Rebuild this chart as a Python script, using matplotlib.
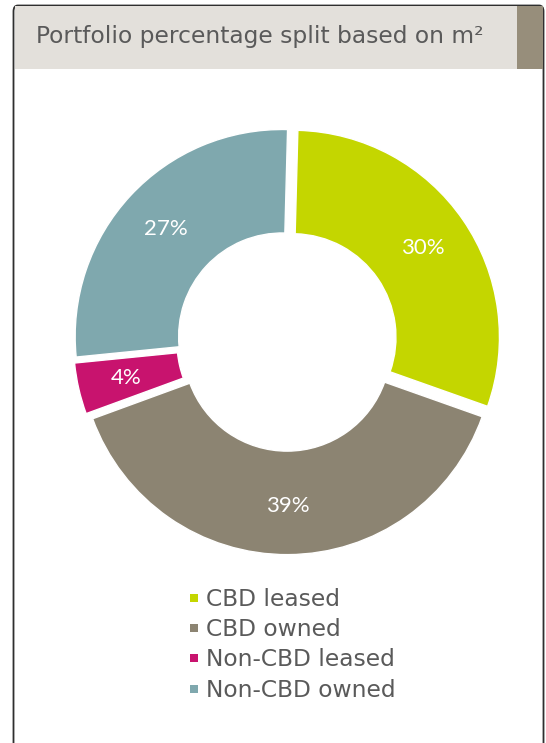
import matplotlib
matplotlib.use("Agg")
import matplotlib.pyplot as plt
from matplotlib.patches import FancyBboxPatch, Rectangle

categories = ["CBD leased", "CBD owned", "Non-CBD leased", "Non-CBD owned"]
shares = [30, 39, 4, 27]
colors = ["#C4D600", "#8C8472", "#C8136E", "#7FA8AE"]
title = "Portfolio percentage split based on m\u00b2"

W, H = 546, 743
fig = plt.figure(figsize=(W / 100, H / 100), dpi=100)
fig.patch.set_facecolor("white")

def fx(px):
    return px / W

def fy(py):
    return 1 - py / H

# card frame with header band
card = FancyBboxPatch((fx(13.5), fy(760)), fx(543.5) - fx(13.5), fy(5.5) - fy(760),
                      boxstyle="round,pad=0,rounding_size=0.008",
                      transform=fig.transFigure, facecolor="white",
                      edgecolor="#2f2f2f", linewidth=1.3, zorder=-2)
fig.patches.append(card)
fig.patches.append(Rectangle((fx(14.5), fy(69)), fx(517) - fx(14.5), fy(6.5) - fy(69),
                             transform=fig.transFigure, facecolor="#E3E0DB",
                             edgecolor="none", zorder=-1))
fig.patches.append(Rectangle((fx(517), fy(69)), fx(542.8) - fx(517), fy(6.5) - fy(69),
                             transform=fig.transFigure, facecolor="#978E7B",
                             edgecolor="none", zorder=-1))
fig.text(fx(36), fy(43.5), title, fontsize=16.8, color="#5a5a5a",
         family="DejaVu Sans", va="baseline", ha="left", zorder=2)

# donut
cx, cy, r = 287, 341, 207
lim = 1.1
size = 2 * r * lim
ax = fig.add_axes([fx(cx - size / 2), fy(cy + size / 2), size / W, size / H])
ax.set_zorder(3)
wedges, texts, autotexts = ax.pie(
    shares, colors=colors, startangle=88.5, counterclock=False,
    explode=[0.032] * len(shares), radius=1.0,
    wedgeprops=dict(width=0.5, edgecolor="white", linewidth=1),
    autopct=lambda p: f"{p:.0f}%", pctdistance=0.765,
    textprops=dict(color="white", fontsize=16, family="Lato"))
ax.set_xlim(-lim, lim)
ax.set_ylim(-lim, lim)
ax.set_aspect("equal")
ax.axis("off")

# legend
rows_y = [606, 636, 666, 697]
for name, col, y in zip(categories, colors, rows_y):
    fig.patches.append(Rectangle((fx(190), fy(y - 4)), fx(8) - fx(0), fy(0) - fy(8),
                                 transform=fig.transFigure, facecolor=col,
                                 edgecolor="none"))
    fig.text(fx(206), fy(y), name, fontsize=16.8, color="#5a5a5a",
             family="DejaVu Sans", va="baseline", ha="left")

fig.savefig("out.png", dpi=100)
